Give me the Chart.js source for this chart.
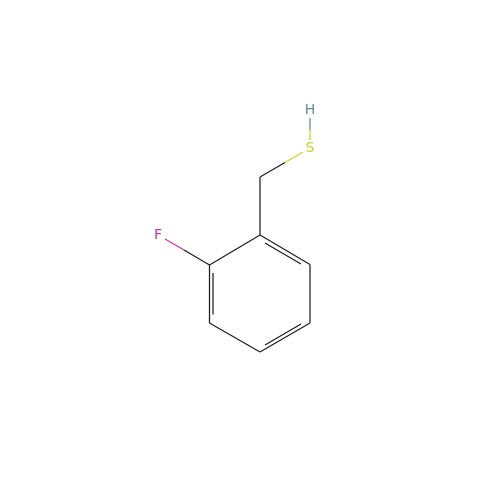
<!DOCTYPE html>
<html>
<head>
<meta charset="utf-8">
<style>html,body{margin:0;padding:0;background:#fff}canvas{display:block}</style>
<script src="https://cdn.jsdelivr.net/npm/chart.js@4"></script>
</head>
<body>
<canvas id="c" width="500" height="500"></canvas>
<script>
const carbonBonds = [
  [[260,235],[310,264.5]], [[310,264.5],[310,323]], [[310,323],[260,352]],
  [[260,352],[209.5,323]], [[209.5,323],[209.5,265]], [[209.5,265],[260,235]],
  [[260,235],[260,177]], [[260,177],[285,162.5]], [[209.5,265],[184,250]],
  [[265,243],[301,264]], [[213,273],[213,314.5]], [[265,345],[301,324]]
];
const sulfurBonds = [ [[285,162.5],[303,152]], [[310,140],[310,130]] ];
const hydrogenBonds = [ [[310,130],[310,118]] ];
const fluorineBonds = [ [[184,250],[165,239]] ];
const atomNames = ["F","S","H"];
const atomX = [158,310,310];
const atomY = [235.5,148.5,110.5];
const atomColors = ["#d6339b","#d0d020","#5f8f8f"];

function toLine(segs){
  const out=[];
  segs.forEach((s,i)=>{ if(i) out.push({x:null,y:null}); out.push({x:s[0][0],y:s[0][1]},{x:s[1][0],y:s[1][1]}); });
  return out;
}
function ds(label,segs,color){
  return {label,data:toLine(segs),borderColor:color,backgroundColor:color,borderWidth:1.25,pointRadius:0,showLine:true,spanGaps:false,tension:0};
}
const atomLabels = {
  id:'atomLabels',
  afterDatasetsDraw(chart){
    const {ctx,scales:{x,y}}=chart;
    ctx.save();
    ctx.font='14px "DejaVu Sans"';
    ctx.textAlign='center';ctx.textBaseline='middle';
    atomNames.forEach((n,i)=>{ctx.fillStyle=atomColors[i];ctx.fillText(n,x.getPixelForValue(atomX[i]),y.getPixelForValue(atomY[i]));});
    ctx.restore();
  }
};
new Chart(document.getElementById('c'),{
  type:'scatter',
  data:{datasets:[
    ds('C',carbonBonds,'#1f1f1f'),
    ds('S',sulfurBonds,'#d0d020'),
    ds('H',hydrogenBonds,'#5f8f8f'),
    ds('F',fluorineBonds,'#d6339b')
  ]},
  options:{
    responsive:false,animation:false,devicePixelRatio:1,
    layout:{padding:0},
    plugins:{legend:{display:false},tooltip:{enabled:false},title:{display:false}},
    scales:{
      x:{type:'linear',min:0,max:500,display:false},
      y:{type:'linear',min:0,max:500,reverse:true,display:false}
    }
  },
  plugins:[atomLabels]
});
</script>
</body>
</html>
